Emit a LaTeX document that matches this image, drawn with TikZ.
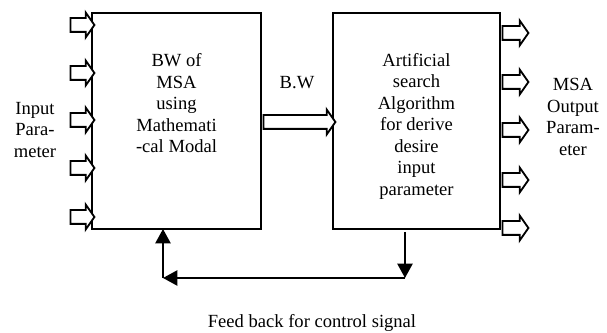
\documentclass[tikz,border=0pt]{standalone}
\usepackage{fontspec}
\setmainfont{Liberation Serif}
\usepackage{tikz}
\usetikzlibrary{positioning}
\usetikzlibrary{arrows.meta}
\usetikzlibrary{shapes}
\usetikzlibrary{shapes.arrows}

\begin{document}
\begin{tikzpicture}[
	>={Triangle[length=0.36cm, width=0.38cm]},
	blockBox/.style = { rectangle, draw, black, line width=1.3pt, inner sep=0pt, outer sep=0pt },
	word/.style = { font = \fontsize{13.2}{15.3}\selectfont, align=center, inner sep=0pt, outer sep=0pt, text = black },
	blockArrow/.style = { single arrow, draw, black, fill=white, line width=1.3pt, single arrow head extend=0.55*\oneUnit, single arrow tip angle=110, inner xsep=0pt, inner ysep=0.6*\oneUnit, outer sep=0pt },
	feedLine/.style = { line width=1.4pt },
	]
	\def\oneUnit{0.25cm}
	\useasboundingbox (0,0) rectangle (60.7*\oneUnit, -33.3*\oneUnit);
	
	\node[blockBox, minimum width=16.9*\oneUnit, minimum height=21.6*\oneUnit] (bw) at (17.65*\oneUnit, -12.1*\oneUnit) {};
	\node[word] (bwText) at (17.65*\oneUnit, -10.35*\oneUnit) {BW of\\MSA\\using\\Mathemati\\-cal Modal};
	
	\node[blockBox, minimum width=16.7*\oneUnit, minimum height=21.6*\oneUnit] (search) at (41.65*\oneUnit, -12.1*\oneUnit) {};
	\node[word] (searchText) at (41.65*\oneUnit, -12.6*\oneUnit) {Artificial\\search\\Algorithm\\for derive\\desire\\input\\parameter};
	
	
	
	\node[blockArrow, minimum height=2.4*\oneUnit] (inOne) at (8.0*\oneUnit, -2.5*\oneUnit) {};
	\node[blockArrow, minimum height=2.4*\oneUnit] (inTwo) at (8.0*\oneUnit, -7.3*\oneUnit) {};
	\node[blockArrow, minimum height=2.4*\oneUnit] (inThree) at (8.0*\oneUnit, -12.0*\oneUnit) {};
	\node[blockArrow, minimum height=2.4*\oneUnit] (inFour) at (8.0*\oneUnit, -16.8*\oneUnit) {};
	\node[blockArrow, minimum height=2.4*\oneUnit] (inFive) at (8.0*\oneUnit, -21.7*\oneUnit) {};
	\node[word] (input) at (3.5*\oneUnit, -13.0*\oneUnit) {Input\\Para-\\meter};
	
	
	
	\node[blockArrow, minimum height=7.2*\oneUnit] (bwArrow) at (29.7*\oneUnit, -12.2*\oneUnit) {};
	\node[word] (bwLabel) at (29.7*\oneUnit, -8.3*\oneUnit) {B.W};
	
	
	
	\node[blockArrow, minimum height=2.6*\oneUnit] (outOne) at (51.3*\oneUnit, -3.3*\oneUnit) {};
	\node[blockArrow, minimum height=2.6*\oneUnit] (outTwo) at (51.3*\oneUnit, -8.2*\oneUnit) {};
	\node[blockArrow, minimum height=2.6*\oneUnit] (outThree) at (51.3*\oneUnit, -13.0*\oneUnit) {};
	\node[blockArrow, minimum height=2.6*\oneUnit] (outFour) at (51.3*\oneUnit, -18.0*\oneUnit) {};
	\node[blockArrow, minimum height=2.6*\oneUnit] (outFive) at (51.3*\oneUnit, -22.8*\oneUnit) {};
	\node[word] (output) at (57.3*\oneUnit, -11.7*\oneUnit) {MSA\\Output\\Param-\\eter};
	
	
	
	\coordinate (fbStart) at (40.5*\oneUnit, -23.2*\oneUnit);
	\coordinate (fbRight) at (40.5*\oneUnit, -27.8*\oneUnit);
	\coordinate (fbLeft) at (16.3*\oneUnit, -27.8*\oneUnit);
	\node[word] (feedback) at (31.2*\oneUnit, -32.3*\oneUnit) {Feed back for control signal};
	
	\draw [->, feedLine] (fbStart) -- (fbRight);
	\draw [->, feedLine] (fbRight) -- (fbLeft);
	\draw [->, feedLine] (fbLeft) -- (fbLeft |- bw.south);
\end{tikzpicture}
\end{document}
